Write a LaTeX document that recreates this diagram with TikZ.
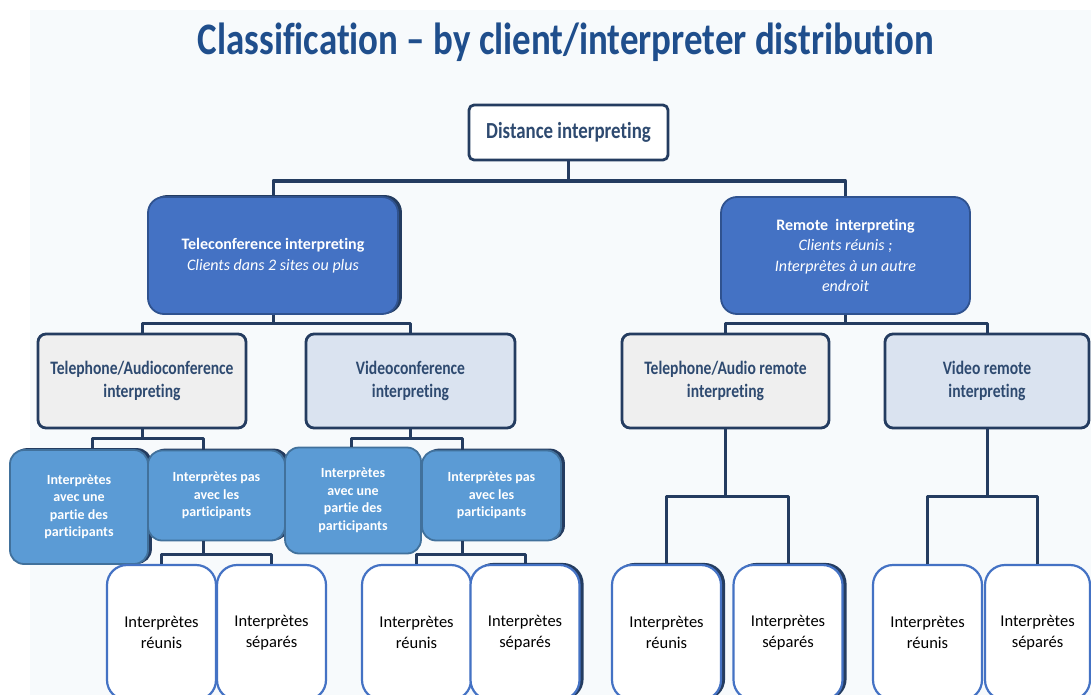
\documentclass[tikz,border=0pt]{standalone}
\usepackage{fontspec}
\setmainfont[Ligatures=NoCommon]{Carlito}
\newfontfamily\narrowfont[FakeStretch=0.82, Ligatures=NoCommon]{Carlito}
\usetikzlibrary{shadows}

\definecolor{titleblue}{RGB}{31,78,140}
\definecolor{navy}{RGB}{36,60,96}
\definecolor{navytext}{RGB}{46,74,112}
\definecolor{royal}{RGB}{68,114,196}
\definecolor{royaledge}{RGB}{47,82,143}
\definecolor{sky}{RGB}{91,155,213}
\definecolor{skyedge}{RGB}{65,113,156}
\definecolor{paleblue}{RGB}{218,227,240}
\definecolor{palegray}{RGB}{239,239,239}
\definecolor{bgtint}{RGB}{247,250,252}

\tikzset{
  box/.style={rectangle, draw=navy, line width=2.8pt, inner sep=0pt, outer sep=0pt, align=center},
  rootbox/.style={box, rounded corners=5pt, fill=white, text=navytext,
    font=\narrowfont\bfseries\fontsize{23}{27}\selectfont},
  subbox/.style={box, rounded corners=8pt, text=navytext,
    font=\narrowfont\bfseries\fontsize{19}{23}\selectfont},
  mainbox/.style={rectangle, rounded corners=16pt, draw=royaledge, line width=1.8pt, fill=royal,
    text=white, inner sep=0pt, align=center, font=\fontsize{16}{20.5}\selectfont},
  casebox/.style={rectangle, rounded corners=14pt, draw=skyedge, line width=1.8pt, fill=sky,
    text=white, inner sep=0pt, align=center, font=\bfseries\fontsize{14}{17.5}\selectfont},
  leafbox/.style={rectangle, rounded corners=20pt, draw=royal, line width=2.2pt, fill=white,
    text=black, inner sep=0pt, align=center, minimum width=109pt, minimum height=135pt,
    font=\fontsize{16.5}{20.5}\selectfont},
  ghost/.style={copy shadow={shadow xshift=3pt, shadow yshift=1pt, fill=navy, draw=navy}},
  link/.style={draw=navy, line width=3pt},
}

\begin{document}
\begin{tikzpicture}[x=1pt, y=-1pt, line join=round]
  \clip (0,0) rectangle (1091,695);
  \fill[white] (0,0) rectangle (1091,695);
  \fill[bgtint] (30,10) rectangle (1091,695);

  % titre
  \node[anchor=base, text=titleblue, font=\narrowfont\bfseries\fontsize{45}{50}\selectfont]
    (title) at (566,55) {Classification – by client/interpreter distribution};

  % niveau 1 et 2
  \node[rootbox, minimum width=199pt, minimum height=55pt] (DI) at (568.5,132.5) {Distance interpreting};
  \node[mainbox, ghost, minimum width=250pt, minimum height=117pt] (TI) at (273,255.5)
    {\textbf{Teleconference interpreting}\\\textit{Clients dans 2 sites ou plus}};
  \node[mainbox, minimum width=249pt, minimum height=117pt] (RI) at (845.5,255.5)
    {\textbf{Remote\ \ interpreting}\\\textit{Clients réunis ;}\\\textit{Interprètes à un autre}\\\textit{endroit}};

  % niveau 3
  \node[subbox, fill=palegray, minimum width=208pt, minimum height=94pt] (TA) at (142,381)
    {Telephone/Audioconference\\interpreting};
  \node[subbox, fill=paleblue, minimum width=209pt, minimum height=94pt] (VC) at (410.5,381)
    {Videoconference\\interpreting};
  \node[subbox, fill=palegray, minimum width=207pt, minimum height=94pt] (TR) at (725.5,381)
    {Telephone/Audio remote\\interpreting};
  \node[subbox, fill=paleblue, minimum width=204pt, minimum height=94pt] (VR) at (987,381)
    {Video remote\\interpreting};

  % cas des interprètes
  \node[casebox, ghost, minimum width=138pt, minimum height=114pt] (A1) at (79,507)
    {Interprètes\\avec une\\partie des\\participants};
  \node[casebox, ghost, minimum width=137pt, minimum height=90pt] (A2) at (216.5,495.5)
    {Interprètes pas\\avec les\\participants};
  \node[casebox, minimum width=136pt, minimum height=106pt] (B1) at (353,500.5)
    {Interprètes\\avec une\\partie des\\participants};
  \node[casebox, ghost, minimum width=139pt, minimum height=90pt] (B2) at (491.5,495.5)
    {Interprètes pas\\avec les\\participants};

  % feuilles
  \node[leafbox] (C1) at (161.5,632.5) {Interprètes\\réunis};
  \node[leafbox] (C2) at (271.5,632.5) {Interprètes\\séparés};
  \node[leafbox] (D1) at (416.5,632.5) {Interprètes\\réunis};
  \node[leafbox, ghost] (D2) at (525,632.5) {Interprètes\\séparés};
  \node[leafbox, ghost] (E1) at (666.5,632.5) {Interprètes\\réunis};
  \node[leafbox, ghost] (E2) at (788,632.5) {Interprètes\\séparés};
  \node[leafbox] (F1) at (927.5,632.5) {Interprètes\\réunis};
  \node[leafbox, minimum width=105pt] (F2) at (1037.5,632.5) {Interprètes\\séparés};

  % liaisons
  \draw[link] (DI.south) -- ++(0,21) -| (TI.north);
  \draw[link] (DI.south) -- ++(0,21) -| (RI.north);
  \draw[link] (TI.south) -- ++(0,9) -| (TA.north);
  \draw[link] (TI.south) -- ++(0,9) -| (VC.north);
  \draw[link] (RI.south) -- ++(0,9) -| (TR.north);
  \draw[link] (RI.south) -- ++(0,9) -| (VR.north);
  \draw[link] (TA.south) -- ++(0,10) -| ([xshift=13pt]A1.north);
  \draw[link] (TA.south) -- ++(0,10) -| ([xshift=-13.5pt]A2.north);
  \draw[link] (VC.south) -- ++(0,10) -| ([xshift=-2pt]B1.north);
  \draw[link] (VC.south) -- ++(0,10) -| ([xshift=-29.5pt]B2.north);
  \draw[link] ([xshift=-13.5pt]A2.south) -- ++(0,13) -| (C1.north);
  \draw[link] ([xshift=-13.5pt]A2.south) -- ++(0,13) -| (C2.north);
  \draw[link] ([xshift=-29.5pt]B2.south) -- ++(0,13) -| (D1.north);
  \draw[link] ([xshift=-29.5pt]B2.south) -- ++(0,13) -| (D2.north);
  \draw[link] (TR.south) -- ++(0,68) -| (E1.north);
  \draw[link] (TR.south) -- ++(0,68) -| (E2.north);
  \draw[link] (VR.south) -- ++(0,68) -| (F1.north);
  \draw[link] (VR.south) -- ++(0,68) -| (F2.north);
\end{tikzpicture}
\end{document}
